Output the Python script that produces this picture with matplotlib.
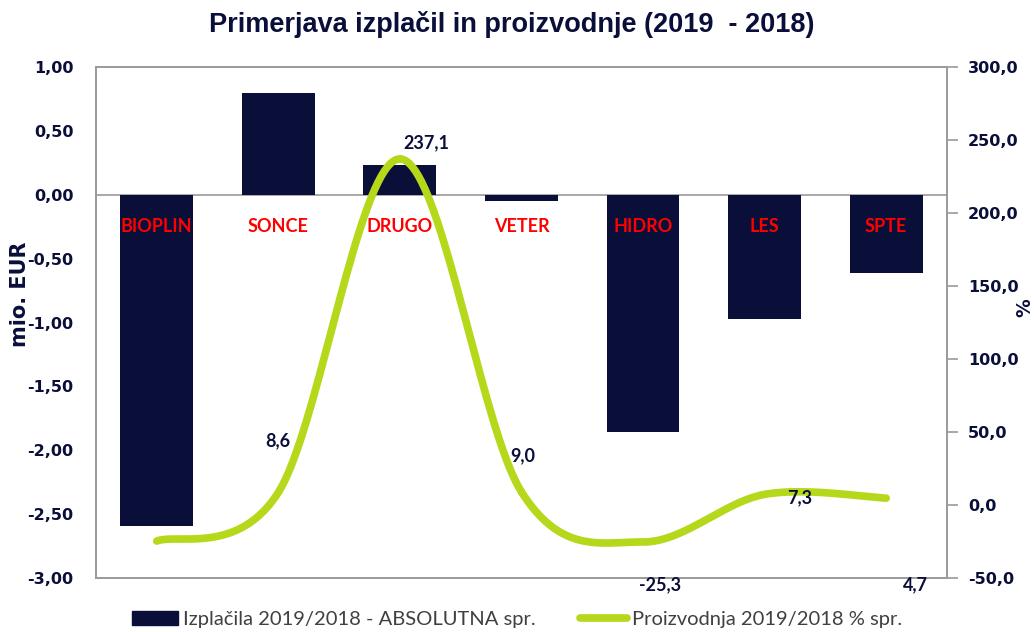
import numpy as np
import matplotlib.pyplot as plt
from matplotlib.patches import Patch
from matplotlib.lines import Line2D

categories = ["BIOPLIN", "SONCE", "DRUGO", "VETER", "HIDRO", "LES", "SPTE"]
izplacila = [-2.59, 0.80, 0.23, -0.05, -1.86, -0.97, -0.61]
proizvodnja = [-24.7, 8.6, 237.1, 9.0, -25.3, 7.3, 4.7]
label_offsets = [(-15, 80), (0, 52), (26, 16), (1, 36), (17, -43), (35, -3), (29, -87)]

navy = "#0a0f3a"
lime = "#b5d81b"
grey = "#9a9a9a"


def smooth(xs, ys, n=40):
    # catmull-rom, like excel's smoothed line
    xs = np.asarray(xs, float)
    ys = np.asarray(ys, float)
    px = np.concatenate([[xs[0]], xs, [xs[-1]]])
    py = np.concatenate([[ys[0]], ys, [ys[-1]]])
    outx, outy = [], []
    for i in range(1, len(px) - 2):
        t = np.linspace(0, 1, n)
        for p, out in ((px, outx), (py, outy)):
            p0, p1, p2, p3 = p[i - 1], p[i], p[i + 1], p[i + 2]
            out.extend(0.5 * (2 * p1 + (-p0 + p2) * t
                              + (2 * p0 - 5 * p1 + 4 * p2 - p3) * t ** 2
                              + (-p0 + 3 * p1 - 3 * p2 + p3) * t ** 3))
    return outx, outy


fig = plt.figure(figsize=(10.34, 6.32), dpi=100)
ax = fig.add_axes([0.0928, 0.0854, 0.823, 0.8086])
x = np.arange(len(categories))

ax.bar(x, izplacila, width=0.6, color=navy, zorder=2)
ax.axhline(0, color=grey, lw=1.2, zorder=1)
ax.set_xlim(-0.5, len(categories) - 0.5)
ax.set_ylim(-3, 1)
ax.set_yticks(np.arange(-3, 1.01, 0.5))
ax.set_yticklabels([f"{v:.2f}".replace(".", ",") for v in np.arange(-3, 1.01, 0.5)])
ax.set_xticks([])
ax.tick_params(axis="y", length=0, pad=16, labelsize=11.5, labelcolor=navy)
for lbl in ax.get_yticklabels():
    lbl.set_fontweight("bold")
for s in ax.spines.values():
    s.set_color(grey)
    s.set_linewidth(1.2)
ax.set_ylabel("mio. EUR", fontsize=15, fontweight="bold", color=navy)
ax.yaxis.set_label_coords(-0.077, 0.556)

for i, c in enumerate(categories):
    ax.text(i, -0.25, c, color="#ff0000", fontsize=13, fontweight="bold",
            family="Lato", ha="center", va="center", zorder=3)

ax2 = ax.twinx()
sx, sy = smooth(x, proizvodnja)
ax2.plot(sx, sy, color=lime, lw=5.5, solid_capstyle="round", zorder=4)
ax2.set_ylim(-50, 300)
ax2.set_yticks(np.arange(-50, 301, 50))
ax2.set_yticklabels([f"{v:.1f}".replace(".", ",") for v in np.arange(-50, 301, 50)])
ax2.tick_params(axis="y", direction="out", length=8, width=1.2, color=grey,
                pad=7, labelsize=11.5, labelcolor=navy)
for lbl in ax2.get_yticklabels():
    lbl.set_fontweight("bold")
for s in ax2.spines.values():
    s.set_color(grey)
    s.set_linewidth(1.2)
ax2.set_ylabel("%", fontsize=13.5, fontweight="bold", color=navy)
ax2.yaxis.set_label_coords(1.080, 0.53)

for i, (v, off) in enumerate(zip(proizvodnja, label_offsets)):
    ax2.annotate(f"{v:.1f}".replace(".", ","), (i, v), xytext=off,
                 textcoords="offset pixels", ha="center", va="center",
                 fontsize=13, fontweight="bold", family="Lato", color=navy,
                 zorder=5, annotation_clip=False)

fig.text(0.495, 0.962, "Primerjava izplačil in proizvodnje (2019  - 2018)",
         ha="center", va="center", fontsize=19.5, fontweight="bold",
         family="Liberation Sans", color=navy)

handles = [Patch(color=navy), Line2D([0], [0], color=lime, lw=5.5, solid_capstyle="round")]
fig.legend(handles, ["Izplačila 2019/2018 - ABSOLUTNA spr.", "Proizvodnja 2019/2018 % spr."],
           loc="center", bbox_to_anchor=(0.5, 0.02), ncol=2, frameon=False,
           prop={"family": "Lato", "size": 14.5}, labelcolor="#404040",
           handlelength=2.3, handletextpad=0.25, columnspacing=2.2,
           borderpad=0)

fig.savefig("out.png", dpi=100)
